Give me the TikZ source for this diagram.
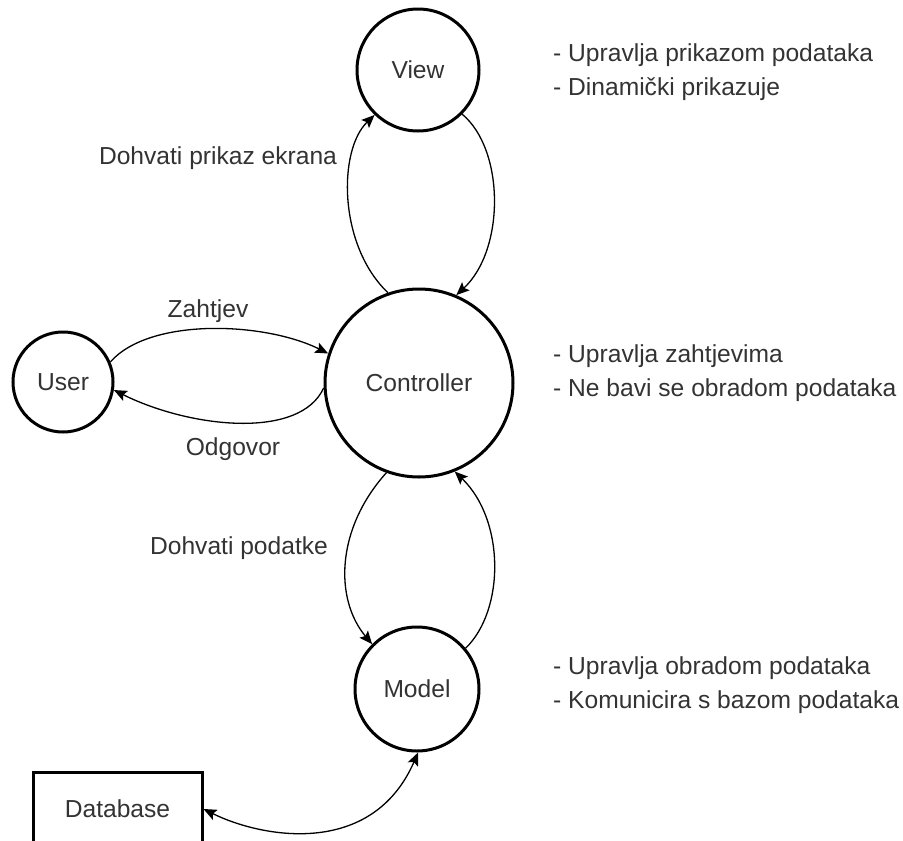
\documentclass[tikz,border=0pt]{standalone}
\usepackage{fontspec}
\setmainfont{Liberation Sans}
\usetikzlibrary{arrows.meta}
\definecolor{txt}{gray}{0.2}
\tikzset{
  every node/.style={font=\fontsize{24.6}{34}\selectfont, text=txt},
  bubble/.style={circle, draw=black, line width=3pt, inner sep=0pt},
  store/.style={rectangle, draw=black, line width=3pt, inner sep=0pt,
    minimum width=169pt, minimum height=74pt},
  flow/.style={draw=black, line width=1.3pt,
    -{Stealth[length=13pt,width=11pt,inset=2.5pt]}},
  twoway/.style={draw=black, line width=1.3pt,
    {Stealth[length=13pt,width=11pt,inset=2.5pt]}-{Stealth[length=13pt,width=11pt,inset=2.5pt]}},
  lbl/.style={inner sep=0pt},
  note/.style={inner sep=0pt, anchor=west, align=left}
}
\begin{document}
\begin{tikzpicture}[x=1pt, y=-1pt]
  \useasboundingbox (0,0) rectangle (903,841);
  \clip (0,0) rectangle (903,841);

  % components
  \node[bubble, minimum size=122pt] (view)  at (418,70)  {View};
  \node[bubble, minimum size=188pt] (ctrl)  at (419,383) {Controller};
  \node[bubble, minimum size=100pt] (user)  at (63,382)  {User};
  \node[bubble, minimum size=124pt] (model) at (417,689) {Model};
  \node[store] (db) at (117.5,809) {Database};

  % controller <-> view
  \draw[flow] (ctrl.109) .. controls (338,245) and (338,150) .. (view.226);
  \draw[flow] (view.315) .. controls (505,150) and (505,250) .. (ctrl.67);

  % user <-> controller
  \draw[flow] (user.23) .. controls (150,317) and (265,322) .. (ctrl.162);
  \draw[flow] (ctrl.183) .. controls (300,440) and (190,428) .. (user.351);

  % controller <-> model
  \draw[flow] (ctrl.250) .. controls (335,530) and (335,600) .. (model.135);
  \draw[flow] (model.40) .. controls (505,610) and (505,520) .. (ctrl.292);

  % model <-> database
  \draw[twoway] (db.east) .. controls (262,838) and (372,858) .. (model.271);

  % connector labels
  \node[lbl] (lview)  at (218,158) {Dohvati prikaz ekrana};
  \node[lbl] (lreq)   at (208,311) {Zahtjev};
  \node[lbl] (lresp)  at (233,449) {Odgovor};
  \node[lbl] (lmodel) at (239,548) {Dohvati podatke};

  % responsibilities
  \node[note] (nview)  at (553,72)  {- Upravlja prikazom podataka\\- Dinamički prikazuje};
  \node[note] (nctrl)  at (553,373) {- Upravlja zahtjevima\\- Ne bavi se obradom podataka};
  \node[note] (nmodel) at (553,685) {- Upravlja obradom podataka\\- Komunicira s bazom podataka};
\end{tikzpicture}
\end{document}
